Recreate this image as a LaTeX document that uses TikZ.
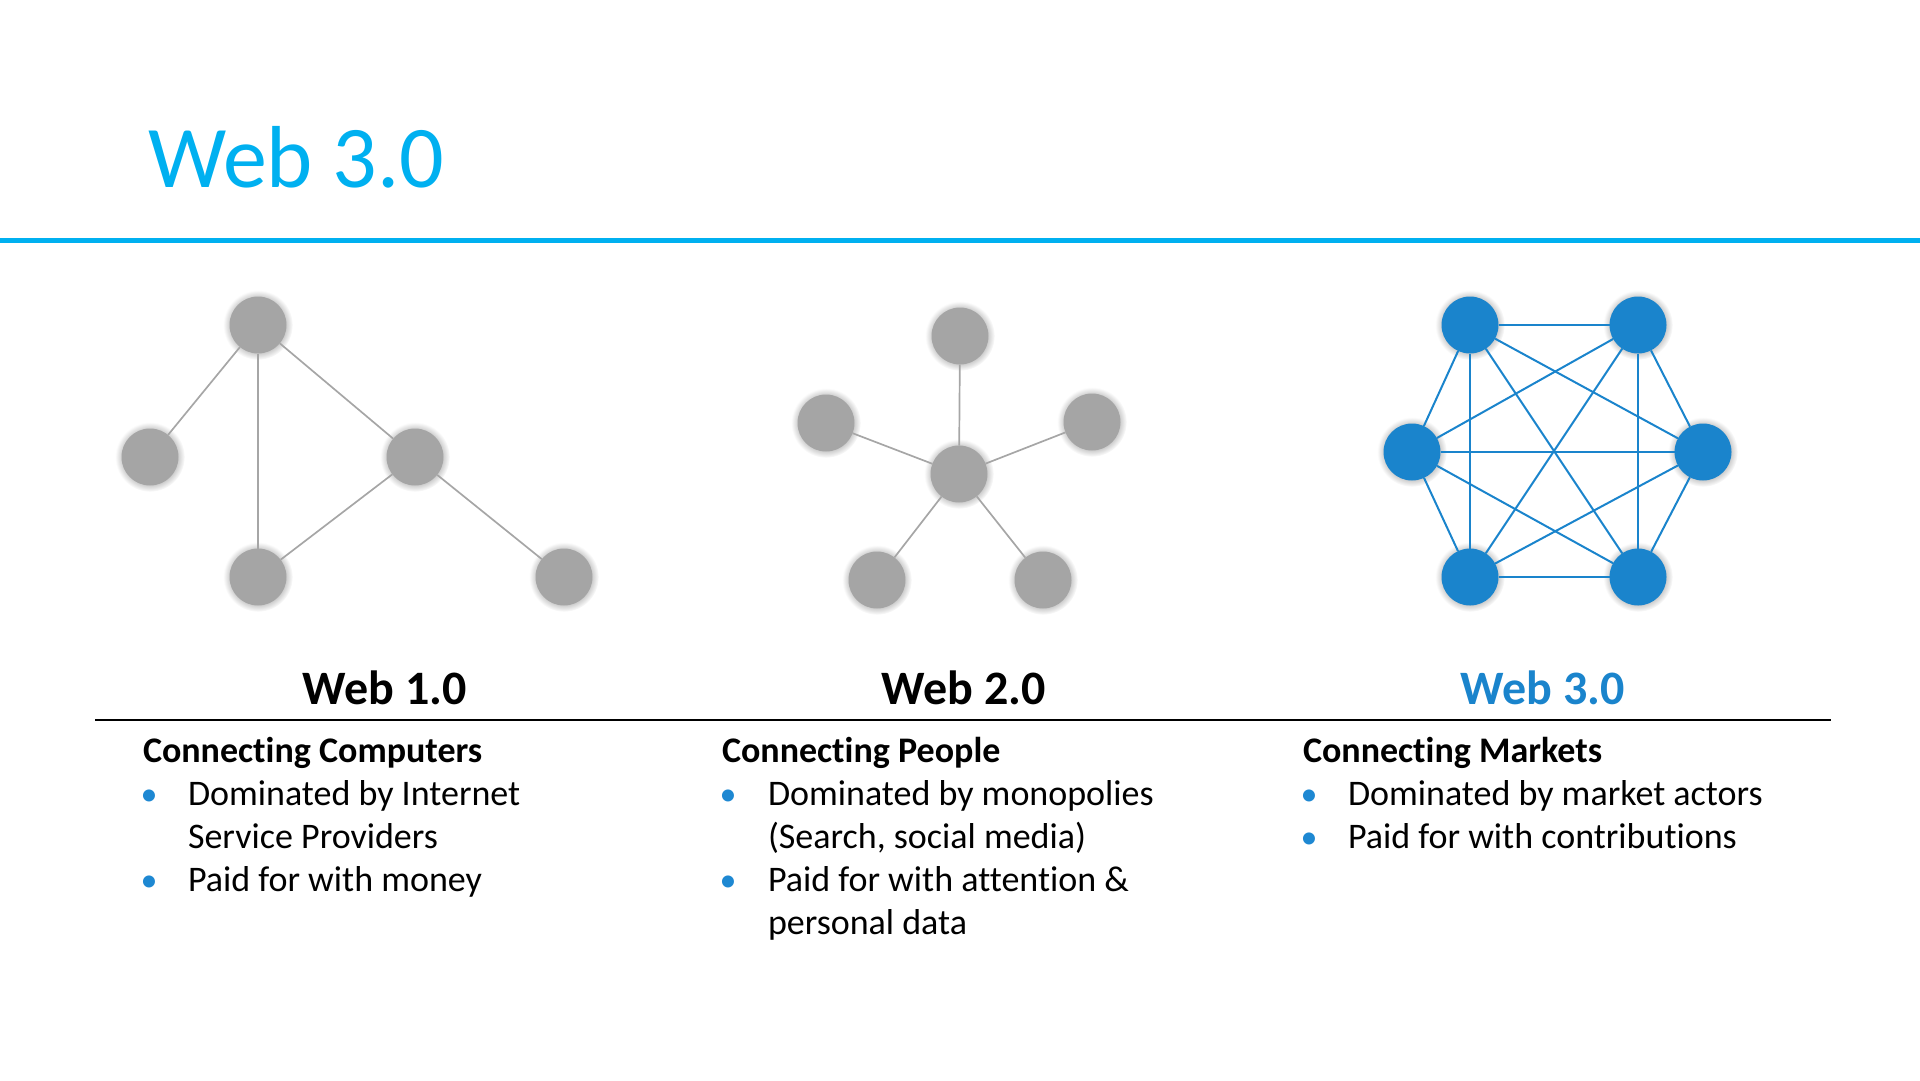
\documentclass[tikz,border=0pt]{standalone}
\usepackage{fontspec}
\setmainfont[RawFeature={-liga;-clig;-calt;-dlig;-rlig}]{Carlito}
\usetikzlibrary{shadows,fadings}
\definecolor{titleblue}{HTML}{00B0F0}
\definecolor{netblue}{HTML}{1A84CC}
\definecolor{netgray}{HTML}{A5A5A5}
\definecolor{edgegray}{HTML}{A6A6A6}
\definecolor{bulletblue}{HTML}{1E88D2}
\begin{document}
\begin{tikzpicture}[x=1pt,y=-1pt,
  every node/.style={inner sep=0pt, outer sep=0pt},
  glow/.style={general shadow={fill=black, opacity=0.2, shadow scale=1.22,
      path fading={circle with fuzzy edge 20 percent}}},
  graynode/.style={circle, minimum size=57pt, fill=netgray, glow},
  bluenode/.style={circle, minimum size=57pt, fill=netblue, glow},
  grayedge/.style={draw=edgegray, line width=1.7pt},
  blueedge/.style={draw=netblue, line width=2pt},
  pagetitle/.style={anchor=base west, text=titleblue, font=\fontsize{88}{100}\selectfont},
  era/.style={anchor=base, font=\bfseries\fontsize{48}{58}\selectfont},
  heading/.style={anchor=base west, font=\bfseries\fontsize{36}{43}\selectfont},
  body/.style={anchor=base west, font=\fontsize{36}{43}\selectfont},
  bulletmark/.style={anchor=base, text=bulletblue, font=\fontsize{34}{43}\selectfont}]

\useasboundingbox (0,0) rectangle (1920,1080);

% title and rules
\node[pagetitle] (title) at (148,187) {Web 3.0};
\coordinate (ruleL) at (0,240.5);
\coordinate (ruleR) at (1920,240.5);
\draw[titleblue, line width=4.5pt] (ruleL) -- (ruleR);
\coordinate (baseL) at (95,720);
\coordinate (baseR) at (1831,720);
\draw[black, line width=2pt] (baseL) -- (baseR);

% Web 1.0 network
\node[graynode] (a1) at (258,325) {};
\node[graynode] (a2) at (150,457) {};
\node[graynode] (a3) at (415,457) {};
\node[graynode] (a4) at (258,577) {};
\node[graynode] (a5) at (564,577) {};
\draw[grayedge] (a1) -- (a2);
\draw[grayedge] (a1) -- (a4);
\draw[grayedge] (a1) -- (a3);
\draw[grayedge] (a3) -- (a4);
\draw[grayedge] (a3) -- (a5);

% Web 2.0 network
\node[graynode] (c0) at (959,474) {};
\node[graynode] (c1) at (960,336) {};
\node[graynode] (c2) at (826,423) {};
\node[graynode] (c3) at (1092,422) {};
\node[graynode] (c4) at (877,580) {};
\node[graynode] (c5) at (1043,580) {};
\foreach \k in {1,...,5} \draw[grayedge] (c0) -- (c\k);

% Web 3.0 network
\node[bluenode] (m1) at (1470,325) {};
\node[bluenode] (m2) at (1638,325) {};
\node[bluenode] (m3) at (1703,452) {};
\node[bluenode] (m4) at (1638,577) {};
\node[bluenode] (m5) at (1470,577) {};
\node[bluenode] (m6) at (1412,452) {};
\foreach \i in {1,...,5}{
  \pgfmathtruncatemacro{\nxt}{\i+1}
  \foreach \j in {\nxt,...,6} \draw[blueedge] (m\i) -- (m\j);
}

% era labels
\node[era] (w1) at (385,704) {Web 1.0};
\node[era] (w2) at (964,704) {Web 2.0};
\node[era, text=netblue] (w3) at (1543,704) {Web 3.0};

% column 1
\node[heading] (h1) at (143,762) {Connecting Computers};
\node[bulletmark] (b11) at (149,805) {•};
\node[body] (t11) at (188,805) {Dominated by Internet};
\node[body] (t12) at (188,848) {Service Providers};
\node[bulletmark] (b12) at (149,891) {•};
\node[body] (t13) at (188,891) {Paid for with money};

% column 2
\node[heading] (h2) at (722,762) {Connecting People};
\node[bulletmark] (b21) at (728,805) {•};
\node[body] (t21) at (768,805) {Dominated by monopolies};
\node[body] (t22) at (768,848) {(Search, social media)};
\node[bulletmark] (b22) at (728,891) {•};
\node[body] (t23) at (768,891) {Paid for with attention \&};
\node[body] (t24) at (768,934) {personal data};

% column 3
\node[heading] (h3) at (1303,762) {Connecting Markets};
\node[bulletmark] (b31) at (1309,805) {•};
\node[body] (t31) at (1348,805) {Dominated by market actors};
\node[bulletmark] (b32) at (1309,848) {•};
\node[body] (t32) at (1348,848) {Paid for with contributions};
\end{tikzpicture}
\end{document}
